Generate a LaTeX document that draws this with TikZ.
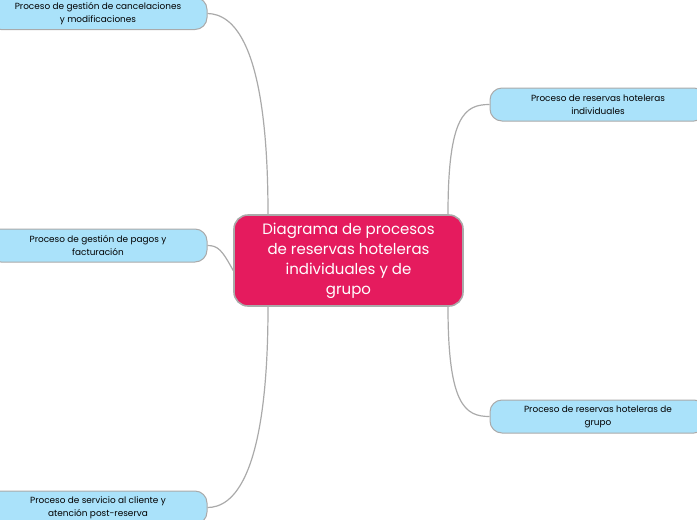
\documentclass[tikz,border=0pt]{standalone}
\usepackage{fontspec}
\setmainfont{Poppins}
\definecolor{hubpink}{RGB}{229,27,94}
\definecolor{leafblue}{RGB}{170,226,250}
\definecolor{edgegrey}{RGB}{170,170,170}

\tikzset{
  hub/.style={draw=edgegrey, line width=1.6pt, fill=hubpink, rounded corners=14pt,
    minimum width=229pt, minimum height=91pt, text=white, align=center,
    font=\fontsize{15}{20}\selectfont},
  leaf/.style={draw=edgegrey, line width=1pt, fill=leafblue, rounded corners=12pt,
    minimum height=33pt, align=center, font=\fontsize{8.9}{13}\selectfont},
  link/.style={draw=edgegrey, line width=1.2pt}
}

\begin{document}
\begin{tikzpicture}[x=1pt,y=-1pt]
  \useasboundingbox (0,0) rectangle (697,520);
  \clip (0,0) rectangle (697,520);
  % central topic
  \node[hub] (hub) at (348.5,260.5) {Diagrama de procesos\\de reservas hoteleras\\individuales y de\\grupo};
  % subtopics
  \node[leaf, minimum width=218pt, minimum height=32pt] (cancel) at (98,13.5) {Proceso de gestión de cancelaciones\\y modificaciones};
  \node[leaf, minimum width=218pt] (pagos) at (98,245.5) {Proceso de gestión de pagos y\\facturación};
  \node[leaf, minimum width=218pt] (cliente) at (98,507.5) {Proceso de servicio al cliente y\\atención post-reserva};
  \node[leaf, minimum width=216pt] (indiv) at (598,104.5) {Proceso de reservas hoteleras\\individuales};
  \node[leaf, minimum width=216pt] (grupo) at (598,416.5) {Proceso de reservas hoteleras de\\grupo};
  % attach points
  \coordinate (hubNW) at ([xshift=-80.5pt]hub.north);
  \coordinate (hubSW) at ([xshift=-80.5pt]hub.south);
  \coordinate (hubNE) at ([xshift=99.5pt]hub.north);
  \coordinate (hubSE) at ([xshift=99.5pt]hub.south);
  \coordinate (hubW) at ([yshift=-10pt]hub.west);
  % connectors
  \draw[link] (hubNW) .. controls (268,40) and (232,14) .. (cancel.east);
  \draw[link] (hubW) .. controls (222,250) and (218,245.5) .. (pagos.east);
  \draw[link] (hubSW) .. controls (268,480) and (232,507.5) .. (cliente.east);
  \draw[link] (hubNE) .. controls (448,115) and (465,104.5) .. (indiv.west);
  \draw[link] (hubSE) .. controls (448,405) and (465,416.5) .. (grupo.west);
\end{tikzpicture}
\end{document}
